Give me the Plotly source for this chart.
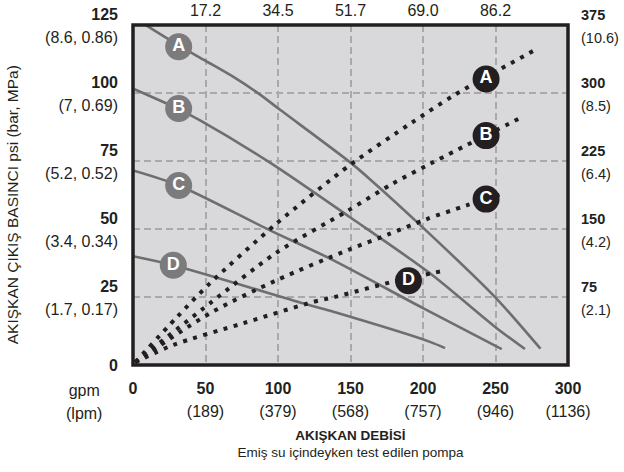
import plotly.graph_objects as go

# colors
ink = '#231f20'
pump_grey = '#6e6e70'
label_grey = '#7b7b7d'
grid_grey = '#a9a9ab'
panel = '#d9d9db'

# flow axis (gpm) and its tick labels
gpm_ticks = [0, 50, 100, 150, 200, 250, 300]
lpm_text = ['', '(189)', '(379)', '(568)', '(757)', '(946)', '(1136)']
top_ticks = [50, 100, 150, 200, 250]
top_text = ['17.2', '34.5', '51.7', '69.0', '86.2']

# pressure axis (psi) and its tick labels
psi_ticks = [0, 25, 50, 75, 100, 125]
psi_sub = ['', '(1.7, 0.17)', '(3.4, 0.34)', '(5.2, 0.52)', '(7, 0.69)', '(8.6, 0.86)']

# air consumption axis and its tick labels
air_ticks = [75, 150, 225, 300, 375]
air_sub = ['(2.1)', '(4.2)', '(6.4)', '(8.5)', '(10.6)']

# pump curves (psi)
pump_a_x = [6, 31.5, 49.5, 69, 87.4, 101, 150, 163, 200, 250, 281]
pump_a_y = [125.9, 117.5, 112, 106, 99.5, 94, 74.4, 68.5, 50.5, 24.8, 6]
pump_b_x = [1, 31.5, 46, 94.5, 149.7, 204.8, 249.7, 270.3]
pump_b_y = [101.4, 94.1, 90, 74.4, 54.3, 33.7, 14, 5.9]
pump_c_x = [0, 31.5, 94.5, 135.9, 200, 254.3]
pump_c_y = [71.5, 66, 49.5, 39.1, 20.9, 5.8]
pump_d_x = [0, 27.8, 117.2, 135.9, 204.8, 215.2]
pump_d_y = [40, 36.7, 22.7, 19.9, 8.5, 6.2]

# air consumption curves (right axis)
air_a_x = [1.5, 31, 53, 99, 150, 192, 222, 279]
air_a_y = [3, 54, 90, 156, 221, 267, 298, 349]
air_b_x = [1.5, 53, 99, 148, 179, 205, 269]
air_b_y = [3, 68, 124, 170, 200, 222, 274]
air_c_x = [1.5, 53, 99, 148.5, 176, 202, 230, 256.6]
air_c_y = [3, 57, 93.5, 127, 144, 160.6, 176, 190]
air_d_x = [1.5, 27.6, 75.9, 124.4, 138.6, 180.7, 216]
air_d_y = [3, 22, 46, 69.6, 74.8, 92.4, 104.5]

# curve labels
letters = ['A', 'B', 'C', 'D']
pump_label_x = [31.5, 31.5, 31.5, 27.8]
pump_label_y = [117, 94.3, 66, 36.7]
air_label_x = [243.5, 243.5, 243.5, 190]
air_label_y = [315.5, 253, 183, 93]


def two_line(top, bottom, size=16):
    s = "<span style='font-size:%spx'><b>%s</b></span>" % (size, top)
    if bottom:
        s += "<br><span style='font-size:%spx'>%s</span>" % (size, bottom)
    return s


fig = go.Figure()

for xs, ys in [(pump_a_x, pump_a_y), (pump_b_x, pump_b_y),
               (pump_c_x, pump_c_y), (pump_d_x, pump_d_y)]:
    fig.add_trace(go.Scatter(x=xs, y=ys, mode='lines',
                             line=dict(color=pump_grey, width=2.6, shape='spline', smoothing=0.8),
                             hoverinfo='skip'))

for xs, ys in [(air_a_x, air_a_y), (air_b_x, air_b_y),
               (air_c_x, air_c_y), (air_d_x, air_d_y)]:
    fig.add_trace(go.Scatter(x=xs, y=ys, yaxis='y2', mode='lines',
                             line=dict(color=ink, width=4, dash='4px,6.5px', shape='spline', smoothing=0.8),
                             hoverinfo='skip'))

label_font = dict(size=18, color='white', family='Liberation Sans Narrow, Liberation Sans, Arial', weight='bold')
# pump labels go on the top flow axis (same range) so that axis gets drawn
fig.add_trace(go.Scatter(x=pump_label_x, y=pump_label_y, xaxis='x2', mode='markers+text', text=letters,
                         marker=dict(size=27, color=label_grey),
                         textposition='middle center', textfont=label_font,
                         hoverinfo='skip'))
fig.add_trace(go.Scatter(x=air_label_x, y=air_label_y, yaxis='y2', mode='markers+text', text=letters,
                         marker=dict(size=27, color=ink),
                         textposition='middle center', textfont=label_font,
                         hoverinfo='skip'))

grid = dict(showgrid=True, gridcolor=grid_grey, gridwidth=2, griddash='7px,4px',
            zeroline=False, showline=False, ticks='', automargin=False)

fig.update_layout(
    width=624, height=472,
    margin=dict(l=133, r=56, t=25, b=107),
    plot_bgcolor=panel, paper_bgcolor='white',
    showlegend=False,
    font=dict(family='Liberation Sans, Arial, sans-serif', color=ink),
    xaxis=dict(range=[0, 300], tickvals=gpm_ticks,
               ticktext=[two_line(v, s) for v, s in zip(gpm_ticks, lpm_text)],
               tickfont=dict(size=17.7), ticklabelstandoff=10,
               title=dict(text='<b>AKIŞKAN DEBİSİ</b><br>Emiş su içindeyken test edilen pompa',
                          font=dict(size=13.5), standoff=11),
               **grid),
    xaxis2=dict(range=[0, 300], overlaying='x', side='top', anchor='y',
                tickvals=top_ticks, ticktext=top_text, tickfont=dict(size=16),
                ticklabelstandoff=5,
                showgrid=False, zeroline=False, ticks='', automargin=False),
    yaxis=dict(range=[0, 125], tickvals=psi_ticks,
               ticktext=[two_line(v, s) for v, s in zip(psi_ticks, psi_sub)],
               tickfont=dict(size=17.7), ticklabelstandoff=14,
               **grid),
    yaxis2=dict(range=[0, 375], overlaying='y', side='right', anchor='x',
                tickvals=air_ticks,
                ticktext=[two_line(v, s, 14.5) for v, s in zip(air_ticks, air_sub)],
                tickfont=dict(size=17.7), ticklabelstandoff=12,
                showgrid=False, zeroline=False, ticks='', automargin=False),
    shapes=[dict(type='rect', xref='paper', yref='paper', x0=0, x1=1, y0=0, y1=1,
                 line=dict(color=ink, width=3.5), layer='above')],
    annotations=[
        dict(text='AKIŞKAN ÇIKIŞ BASINCI psi (bar, MPa)', textangle=-90,
             xref='paper', yref='paper', x=-0.278, y=0.47, xanchor='center', showarrow=False,
             font=dict(size=15.5)),
        dict(text="<span style='font-size:16px'>gpm</span><br><span style='font-size:16px'>(lpm)</span>",
             xref='paper', yref='paper', x=-0.112, y=-0.0435, xanchor='center', yanchor='top',
             showarrow=False, font=dict(size=17.7)),
    ],
)

# the page body has a default 8px margin; drop it so the figure sits at the window corner
fig.write_html('out.html', config={'displayModeBar': False},
               post_script="document.body.style.margin='0px';")
